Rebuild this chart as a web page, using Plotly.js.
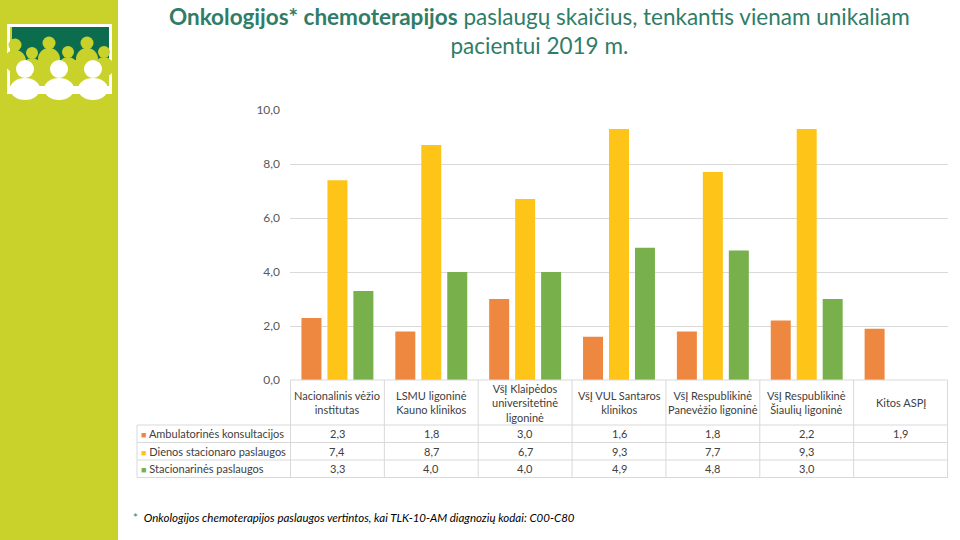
<!DOCTYPE html>
<html>
<head>
<meta charset="utf-8">
<script src="https://cdn.plot.ly/plotly-3.0.1.min.js"></script>
<style>html,body{margin:0;padding:0;background:#fff;}#chart{width:960px;height:540px;}</style>
</head>
<body>
<div id="chart"></div>
<script>
// ---- data ----
const categories = ["Nacionalinis vėžio institutas", "LSMU ligoninė Kauno klinikos", "VšĮ Klaipėdos universitetinė ligoninė", "VšĮ VUL Santaros klinikos", "VšĮ Respublikinė Panevėžio ligoninė", "VšĮ Respublikinė Šiaulių ligoninė", "Kitos ASPĮ"];
const headerLabels = ["Nacionalinis vėžio<br>institutas", "LSMU ligoninė<br>Kauno klinikos", "VšĮ Klaipėdos<br>universitetinė<br>ligoninė", "VšĮ VUL Santaros<br>klinikos", "VšĮ Respublikinė<br>Panevėžio ligoninė", "VšĮ Respublikinė<br>Šiaulių ligoninė", "Kitos ASPĮ"];
const seriesNames = ["Ambulatorinės konsultacijos", "Dienos stacionaro paslaugos", "Stacionarinės paslaugos"];
const ambulatorines = [2.3, 1.8, 3.0, 1.6, 1.8, 2.2, 1.9];
const dienosStacionaro = [7.4, 8.7, 6.7, 9.3, 7.7, 9.3, null];
const stacionarines = [3.3, 4.0, 4.0, 4.9, 4.8, 3.0, null];
const yTicks = [0, 2, 4, 6, 8, 10];
const titleText = "<b>Onkologijos* chemoterapijos</b> paslaugų skaičius, tenkantis vienam unikaliam<br>pacientui 2019 m.";
const footnoteText = "Onkologijos chemoterapijos paslaugos vertintos, kai TLK-10-AM diagnozių kodai: C00-C80";

// ---- styling / layout helpers ----
const seriesValues = [ambulatorines, dienosStacionaro, stacionarines];
const colors = ["#EE8840", "#FFC418", "#78B04C"];
const L = 290, R = 948, T = 110, B = 380;
const px = x => (x - L) / (R - L);
const py = y => (B - y) / (B - T);
const fmt = v => (v === null || v === undefined) ? "" : v.toFixed(1).replace(".", ",");
const textCol = "#404040";
const lineCol = "#D9D9D9";
const teal = "#2F7D68";
const lime = "#C9D22B";
const darkGreen = "#0B6D4E";
const FONT = "Lato, 'Open Sans', sans-serif";

const traces = seriesValues.map((vals, i) => ({
  type: "bar",
  name: seriesNames[i],
  x: categories,
  y: vals,
  marker: {color: colors[i], line: {width: 0}},
  hoverinfo: "skip",
  showlegend: false
}));

const shapes = [];
const annotations = [];

function rectPx(x0, y0, x1, y1, fill, type) {
  shapes.push({type: type || "rect", xref: "paper", yref: "paper",
    x0: px(x0), x1: px(x1), y0: py(y1), y1: py(y0),
    fillcolor: fill, line: {width: 0}, layer: "above"});
}
// left sidebar
rectPx(0, 0, 118, 540, lime);
// logo
rectPx(7, 24, 112, 94, "#FFFFFF");
rectPx(10, 27, 109, 91, lime);
rectPx(10, 27, 109, 60, darkGreen);
// back row figures (lime on dark green)
[[15, 45], [49, 43], [87, 43]].forEach(([cx, cy]) => {
  rectPx(cx - 11, cy + 5, cx + 11, cy + 27, lime, "circle");
  rectPx(cx - 6.5, cy - 6.5, cx + 6.5, cy + 6.5, lime, "circle");
});
[[32, 53], [68, 52], [104, 52]].forEach(([cx, cy]) => {
  rectPx(cx - 10, cy + 5, cx + 10, cy + 25, lime, "circle");
  rectPx(cx - 6, cy - 6, cx + 6, cy + 6, lime, "circle");
});
rectPx(10, 27, 12, 91, lime);
// front row white figures
[[25, 69], [59, 69], [93, 69]].forEach(([cx, cy]) => {
  rectPx(cx - 15, cy + 9, cx + 15, cy + 31, "#FFFFFF", "circle");
  rectPx(cx - 9, cy - 9, cx + 9, cy + 9, "#FFFFFF", "circle");
});
rectPx(10, 86, 109, 91, "#FFFFFF");

// ---- data table below chart ----
const tableLeft = 137, headTop = 380, headBottom = 425, rowH = 17.5;
const tableBottom = headBottom + rowH * seriesNames.length;
const line = (o) => Object.assign({type: "line", line: {color: lineCol, width: 1}, layer: "above"}, o);
shapes.push(line({xref: "x", yref: "paper", x0: -0.5, x1: categories.length - 0.5, y0: py(headTop), y1: py(headTop)}));
for (let r = 0; r <= seriesNames.length; r++) {
  const yy = py(headBottom + r * rowH);
  shapes.push(line({xref: "paper", yref: "paper", x0: px(tableLeft), x1: 1, y0: yy, y1: yy}));
}
for (let i = 0; i <= categories.length; i++) {
  shapes.push(line({xref: "x", yref: "paper", x0: i - 0.5, x1: i - 0.5, y0: py(headTop), y1: py(tableBottom)}));
}
shapes.push(line({xref: "paper", yref: "paper", x0: px(tableLeft), x1: px(tableLeft), y0: py(headBottom), y1: py(tableBottom)}));

const tFont = {family: FONT, size: 11, color: textCol};
categories.forEach((c, i) => {
  annotations.push({xref: "x", yref: "paper", x: c, y: py((headTop + headBottom) / 2),
    text: headerLabels[i], showarrow: false, xanchor: "center", yanchor: "middle", align: "center", font: tFont});
  seriesValues.forEach((vals, s) => {
    if (vals[i] === null) return;
    annotations.push({xref: "x", yref: "paper", x: c, y: py(headBottom + rowH * (s + 0.5)),
      text: fmt(vals[i]), showarrow: false, xanchor: "center", yanchor: "middle", font: tFont});
  });
});
seriesNames.forEach((n, s) => {
  annotations.push({xref: "paper", yref: "paper", x: px(tableLeft + 2), y: py(headBottom + rowH * (s + 0.5)),
    text: '<span style="color:' + colors[s] + ';font-size:9px">■</span> ' + n,
    showarrow: false, xanchor: "left", yanchor: "middle", font: tFont});
});

// title
annotations.push({xref: "paper", yref: "paper", x: px(539), y: py(1), xanchor: "center", yanchor: "top",
  text: titleText, showarrow: false, align: "center",
  font: {family: FONT, size: 22.5, color: teal}});

// footnote
annotations.push({xref: "paper", yref: "paper", x: px(131), y: py(517),
  text: '<span style="color:' + teal + '">*</span>  <i>' + footnoteText + '</i>',
  showarrow: false, xanchor: "left", yanchor: "middle",
  font: {family: FONT, size: 11.5, color: "#000000"}});

const layout = {
  width: 960, height: 540,
  margin: {l: L, r: 960 - R, t: T, b: 540 - B, pad: 0},
  paper_bgcolor: "#FFFFFF", plot_bgcolor: "#FFFFFF",
  separators: ",.",
  barmode: "group", bargap: 0.17, bargroupgap: 0.23,
  showlegend: false,
  xaxis: {type: "category", showticklabels: false, showgrid: false, zeroline: false, showline: false, ticks: "", fixedrange: true},
  yaxis: {range: [0, 10], tickvals: yTicks, tickformat: ".1f", showgrid: true, gridcolor: lineCol, gridwidth: 1,
    zeroline: false, showline: false, ticks: "", ticklabelstandoff: 9,
    tickfont: {family: FONT, size: 12, color: "#595959"}, fixedrange: true},
  shapes: shapes,
  annotations: annotations
};

Plotly.newPlot("chart", traces, layout, {staticPlot: true, displayModeBar: false});
</script>
</body>
</html>
